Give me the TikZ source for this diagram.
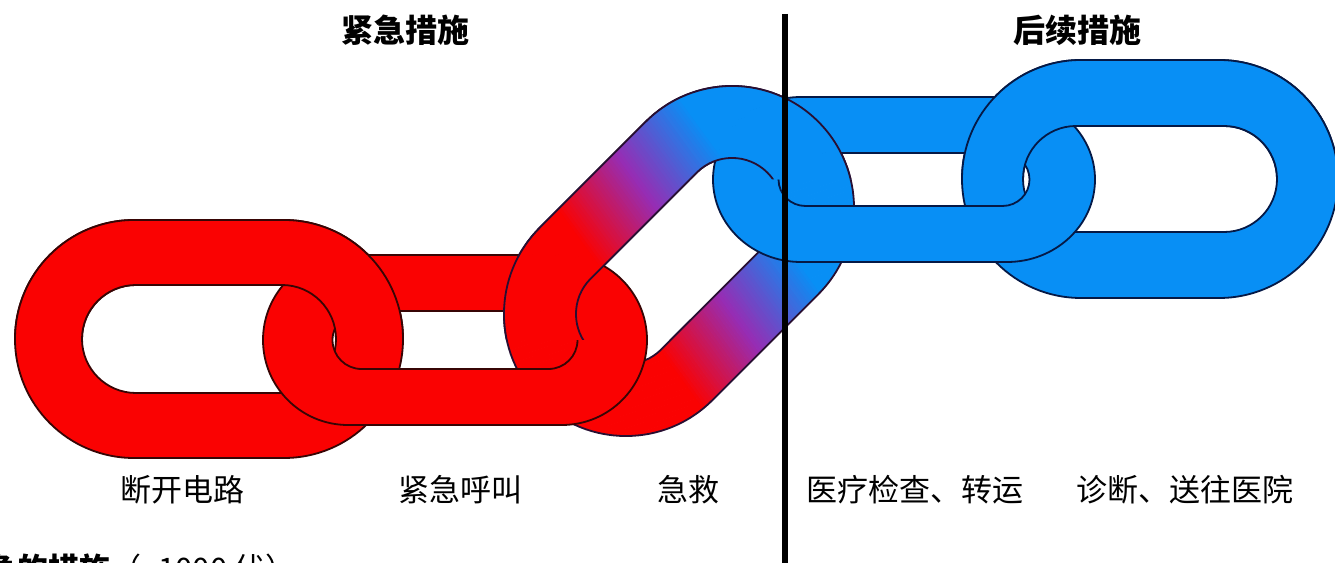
\documentclass[tikz,border=0pt]{standalone}
\usepackage{fontspec}
\newfontfamily\cjk{Noto Sans CJK SC}
\definecolor{chainred}{RGB}{250,2,2}
\definecolor{chainblue}{RGB}{8,143,245}
\definecolor{chainpurple}{RGB}{150,45,180}
\definecolor{redline}{RGB}{55,5,5}
\definecolor{blueline}{RGB}{5,25,70}
\definecolor{purpleline}{RGB}{40,15,50}

% stadium outline centred at the origin: half length, half height, cap x-radius
\tikzset{
  stadium/.style n args={3}{insert path={
    (-#1+#3,#2) -- (#1-#3,#2)
    arc[start angle=90,end angle=-90,x radius=#3,y radius=#2]
    -- (-#1+#3,-#2)
    arc[start angle=270,end angle=90,x radius=#3,y radius=#2] -- cycle}},
  ring/.style={even odd rule, line width=1.8, line join=round},
  title/.style={font=\cjk\bfseries\fontsize{32}{38}\selectfont, inner sep=0},
  caption/.style={font=\cjk\fontsize{31}{37}\selectfont, inner sep=0},
}

% front-facing links
\newcommand\linkone{%
  \begin{scope}[shift={(209,223)}]
    \path[ring, fill=chainred, draw=redline, stadium={194}{119}{119}, stadium={127}{54}{54}];
  \end{scope}}
\newcommand\linkfive{%
  \begin{scope}[shift={(1150,383)}]
    \path[ring, fill=chainblue, draw=blueline, stadium={188}{119}{119}, stadium={127}{53}{53}];
  \end{scope}}
% diagonal link with a red-to-blue gradient
\newcommand\linkthree{%
  \begin{scope}[shift={(679,301)}, rotate=45]
    \begin{scope}[even odd rule]
      \clip (-75,122) -- (75,122) arc[start angle=90,end angle=-90,radius=122]
            -- (-75,-122) arc[start angle=270,end angle=90,radius=122] -- cycle
            (-75,50) -- (75,50) arc[start angle=90,end angle=-90,radius=50]
            -- (-75,-50) arc[start angle=270,end angle=90,radius=50] -- cycle;
      \begin{scope}[rotate=-9]
        \foreach \s in {-220,-217,...,219}{
          \ifdim\s pt<11pt
            \pgfmathtruncatemacro\p{max(0,min(100,(\s+70)/81*100))}
            \colorlet{stripcol}{chainpurple!\p!chainred}
          \else
            \pgfmathtruncatemacro\p{max(0,min(100,(\s-11)/84*100))}
            \colorlet{stripcol}{chainblue!\p!chainpurple}
          \fi
          \fill[stripcol] (\s,-220) rectangle ++(3.6,440);
        }
      \end{scope}
    \end{scope}
    \path[ring, draw=purpleline, stadium={197}{122}{122}, stadium={125}{50}{50}];
  \end{scope}}

\begin{document}
\begin{tikzpicture}[x=1pt,y=1pt]
\useasboundingbox (0,0) rectangle (1335,562);

% front-facing links
\linkone
\linkthree
\linkfive

% edge-on links threaded through them
\begin{scope}[shift={(455,222)}]
  \path[ring, fill=chainred, draw=redline, stadium={192}{85}{85}, stadium={122.5}{29}{29}];
\end{scope}
\begin{scope}[shift={(904,382.5)}]
  \path[ring, fill=chainblue, draw=blueline, stadium={191}{82.5}{88}, stadium={125.5}{26.5}{27}];
\end{scope}

% upper halves of the front links pass over the edge-on links
\begin{scope}
  \clip (-10,222) rectangle (1345,600);
  \linkone
\end{scope}
\begin{scope}
  \clip (-10,222) -- (690,222) -- (690,382.5) -- (1345,382.5) -- (1345,600) -- (-10,600) -- cycle;
  \linkthree
\end{scope}
\begin{scope}
  \clip (-10,382.5) rectangle (1345,600);
  \linkfive
\end{scope}

% divider
\coordinate (divtop) at (785,548);
\coordinate (divbot) at (785,-10);
\draw[line width=6] (divtop) -- (divbot);

% headings
\node[title] (title1) at (405,532) {紧急措施};
\node[title] (title2) at (1077,532) {后续措施};

% captions
\node[caption] (lab1) at (182,72) {断开电路};
\node[caption] (lab2) at (460,72) {紧急呼叫};
\node[caption] (lab3) at (688,72) {急救};
\node[caption] (lab4) at (915,72) {医疗检查、转运};
\node[caption] (lab5) at (1185,72) {诊断、送往医院};

\node[caption, anchor=base west] (note) at (-14,-18) {{\bfseries 急的措施}（\textasciitilde1000 伏）};
\end{tikzpicture}
\end{document}
